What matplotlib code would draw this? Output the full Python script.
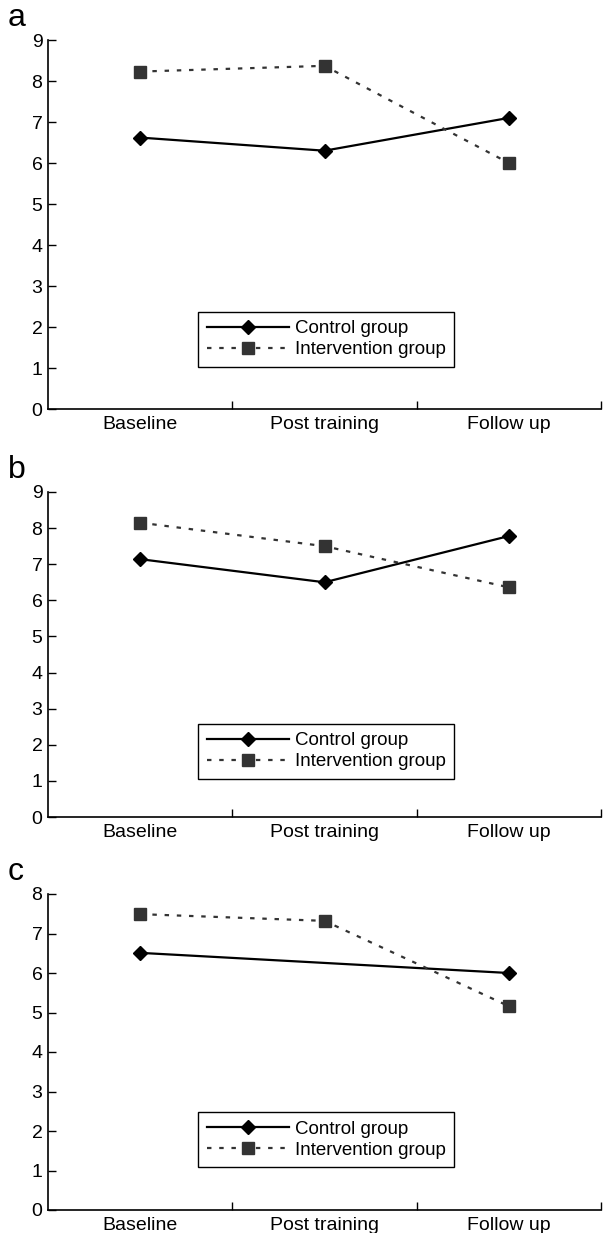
import numpy as np
import matplotlib.pyplot as plt

plt.rcParams['font.family'] = ['Liberation Sans', 'DejaVu Sans']

categories = ['Baseline', 'Post training', 'Follow up']
panel_letters = ['a', 'b', 'c']

# control group means per panel (panel c has no post-training point)
control_a = [6.62, 6.30, 7.10]
control_b = [7.14, 6.50, 7.78]
control_c = [6.51, np.nan, 6.00]

# intervention group means per panel
interv_a = [8.23, 8.37, 6.00]
interv_b = [8.15, 7.50, 6.36]
interv_c = [7.49, 7.32, 5.16]

ymax = [9, 9, 8]

fig = plt.figure(figsize=(6.08, 12.33), dpi=100)

# axes boxes in pixels: top, bottom
boxes = [(40, 409), (492, 817), (894, 1210)]
legend_anchor = [(0.266, 0.108, 0.474, 0.162), (0.266, 0.11, 0.474, 0.185), (0.266, 0.127, 0.474, 0.19)]

controls = [control_a, control_b, control_c]
intervs = [interv_a, interv_b, interv_c]

x = np.arange(len(categories))
H = 1233.0
for i in range(3):
    top, bot = boxes[i]
    ax = fig.add_axes([48 / 608, 1 - bot / H, 553 / 608, (bot - top) / H])

    c = np.array(controls[i], dtype=float)
    ok = ~np.isnan(c)
    ax.plot(x[ok], c[ok], color='black', lw=1.6, marker='D', ms=7,
            mfc='black', mec='black', label='Control group')
    ax.plot(x, intervs[i], color='#333333', lw=1.6, ls=(0, (2, 3.5)),
            marker='s', ms=8, mfc='#333333', mec='#333333',
            label='Intervention group')

    ax.set_xlim(-0.5, 2.5)
    ax.set_ylim(0, ymax[i])
    ax.set_yticks(range(ymax[i] + 1))
    ax.set_xticks(x)
    ax.set_xticklabels(categories)
    ax.set_xticks([0.5, 1.5, 2.5], minor=True)
    ax.tick_params(axis='x', which='major', length=0, pad=5, labelsize=14)
    ax.tick_params(axis='x', which='minor', direction='in', length=6, width=1)
    ax.tick_params(axis='y', direction='in', length=6, width=1, labelsize=14, pad=4)
    for s in ['top', 'right']:
        ax.spines[s].set_visible(False)
    for s in ['left', 'bottom']:
        ax.spines[s].set_linewidth(1.2)

    leg = ax.legend(loc='center', bbox_to_anchor=legend_anchor[i],
                    fancybox=False, edgecolor='black', framealpha=1,
                    fontsize=13.5, handlelength=4.4, numpoints=1,
                    borderpad=0.45, labelspacing=0.2, handletextpad=0.3)
    leg.get_frame().set_linewidth(1.0)

    fig.text(8 / 608, 1 - (boxes[i][0] - 22) / H, panel_letters[i],
             fontsize=23, va='center', ha='left')

fig.savefig('out.png', dpi=100)
